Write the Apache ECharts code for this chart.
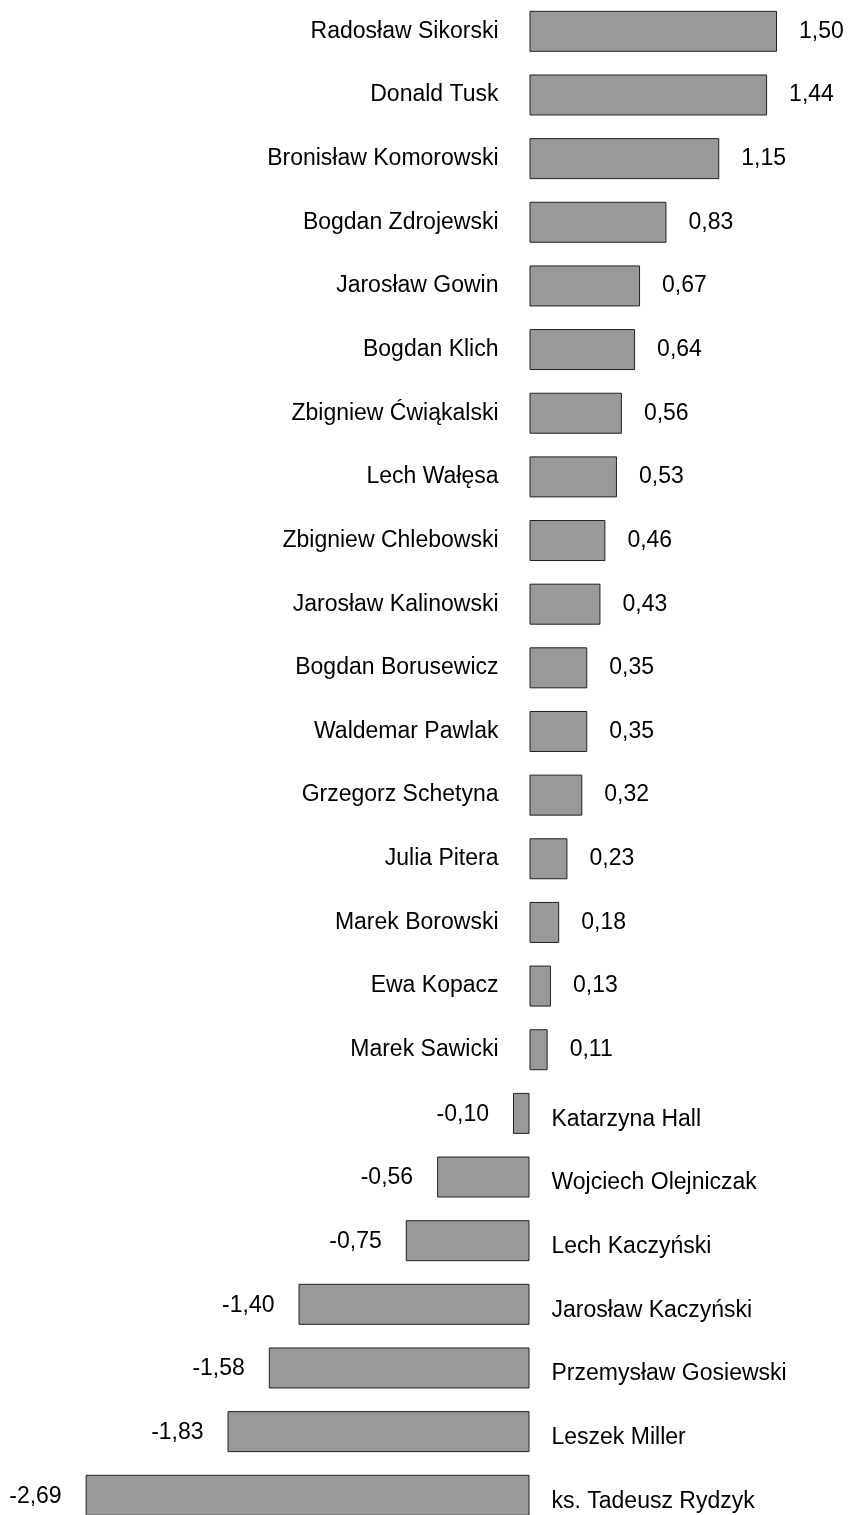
<!DOCTYPE html>
<html>
<head>
<meta charset="utf-8">
<script src="https://cdn.jsdelivr.net/npm/echarts@6/dist/echarts.min.js"></script>
<style>
  html, body { margin: 0; padding: 0; background: #fff; }
  #chart { width: 850px; height: 1515px; }
</style>
</head>
<body>
<div id="chart"></div>
<script>
var names = [
  'Radosław Sikorski', 'Donald Tusk', 'Bronisław Komorowski', 'Bogdan Zdrojewski',
  'Jarosław Gowin', 'Bogdan Klich', 'Zbigniew Ćwiąkalski', 'Lech Wałęsa',
  'Zbigniew Chlebowski', 'Jarosław Kalinowski', 'Bogdan Borusewicz', 'Waldemar Pawlak',
  'Grzegorz Schetyna', 'Julia Pitera', 'Marek Borowski', 'Ewa Kopacz',
  'Marek Sawicki', 'Katarzyna Hall', 'Wojciech Olejniczak', 'Lech Kaczyński',
  'Jarosław Kaczyński', 'Przemysław Gosiewski', 'Leszek Miller', 'ks. Tadeusz Rydzyk'
]
var values = [
  1.50, 1.44, 1.15, 0.83,
  0.67, 0.64, 0.56, 0.53,
  0.46, 0.43, 0.35, 0.35,
  0.32, 0.23, 0.18, 0.13,
  0.11, -0.10, -0.56, -0.75,
  -1.40, -1.58, -1.83, -2.69
]

var font = { fontFamily: 'Liberation Sans, Arial, sans-serif', fontSize: 23, color: '#000' }

function fmt(v) {
  return v.toFixed(2).replace('.', ',')
}

// bars + value labels
var barData = values.map(function (v) {
  return {
    value: v,
    label: Object.assign({
      show: true,
      position: v >= 0 ? 'right' : 'left',
      distance: v >= 0 ? 22 : 24,
      offset: v >= 0 ? [0, 0] : [0, 1],
      formatter: fmt(v)
    }, font)
  }
})

// zero-width helper bars carrying the names on the opposite side
var nameData = values.map(function (v, i) {
  return {
    value: 0,
    label: Object.assign({
      show: true,
      position: v >= 0 ? 'left' : 'right',
      distance: v >= 0 ? 31 : 22,
      offset: v >= 0 ? [0, 0] : [0, 6],
      formatter: names[i]
    }, font)
  }
})

var chart = echarts.init(document.getElementById('chart'))
chart.setOption({
  animation: false,
  grid: { left: 84, right: 23.5, top: -0.5, height: 1527.6, outerBoundsMode: 'none', containLabel: false },
  xAxis: {
    type: 'value',
    min: -2.7,
    max: 1.8,
    show: false
  },
  yAxis: {
    type: 'category',
    data: names,
    inverse: true,
    show: false
  },
  series: [
    {
      type: 'bar',
      data: barData,
      barWidth: 41,
      itemStyle: { color: '#999999', borderColor: '#222', borderWidth: 1 }
    },
    {
      type: 'bar',
      data: nameData,
      barWidth: 41,
      barGap: '-100%',
      silent: true,
      itemStyle: { color: 'rgba(0,0,0,0)', borderWidth: 0 }
    }
  ]
})
</script>
</body>
</html>
